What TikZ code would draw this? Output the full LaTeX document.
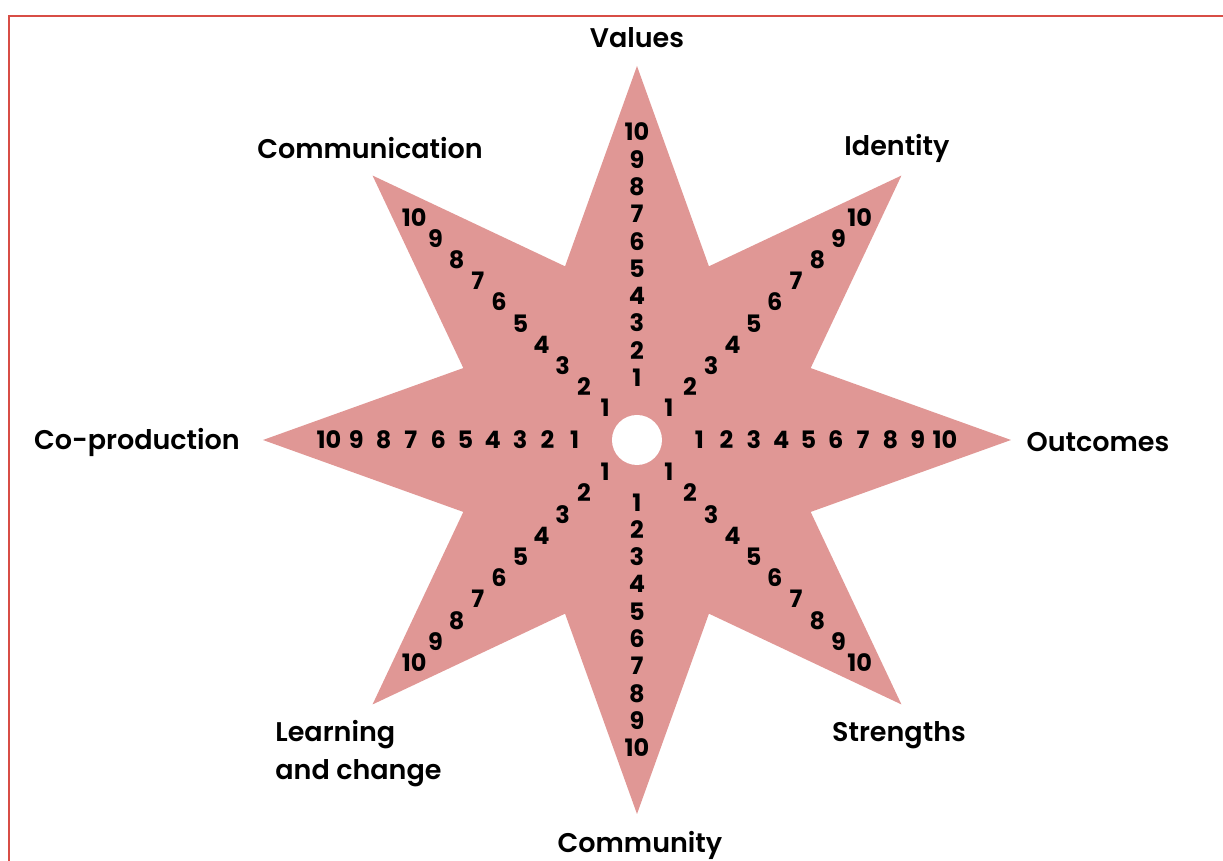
\documentclass[tikz,border=0pt]{standalone}
\usepackage{fontspec}
\setmainfont{Poppins}[BoldFont={Poppins SemiBold}]
\newfontfamily\numfont{Poppins Bold}
\definecolor{starfill}{RGB}{224,151,149}
\definecolor{framered}{RGB}{216,78,70}
\begin{document}
\begin{tikzpicture}
  [x=0.5pt,y=0.5pt,every node/.style={inner sep=0pt},
   num/.style={font=\fontsize{12}{12}\numfont},
   lbl/.style={font=\fontsize{13.5}{19}\selectfont\bfseries}]
  \useasboundingbox (-637,-421) rectangle (586,440);
  \draw[framered,line width=1.3pt] (-628,-421) -- (-628,424) -- (586,424);

  % star
  \fill[starfill] (90:374) -- (67.5:188) -- (45:374) -- (22.5:188) -- (0:374)
    -- (-22.5:188) -- (-45:374) -- (-67.5:188) -- (-90:374) -- (-112.5:188)
    -- (-135:374) -- (-157.5:188) -- (180:374) -- (157.5:188) -- (135:374)
    -- (112.5:188) -- cycle;
  \fill[white] (0,0) circle (25);

  % scores on the straight arms
  \foreach \ang/\arm in {90/val,0/out,-90/com,180/cop}
    \foreach \i in {1,...,10}
      \node[num] (\arm\i) at (\ang:35+27.3*\i) {\i};
  % scores on the diagonal arms
  \foreach \ang/\arm in {45/ide,-45/str,-135/lea,135/cmm}
    \foreach \i in {1,...,10}
      \node[num] (\arm\i) at (\ang:15+30*\i) {\i};

  \node[lbl] (values) at (0,402) {Values};
  \node[lbl] (communication) at (-267,292) {Communication};
  \node[lbl] (identity) at (260,292) {Identity};
  \node[lbl] (coproduction) at (-500,-2) {Co-production};
  \node[lbl] (outcomes) at (461,-2) {Outcomes};
  \node[lbl] (strengths) at (262,-295) {Strengths};
  \node[lbl] (community) at (3,-405) {Community};
  \node[lbl,anchor=west,align=left] (learning) at (-362,-314) {Learning\\and change};
\end{tikzpicture}
\end{document}
